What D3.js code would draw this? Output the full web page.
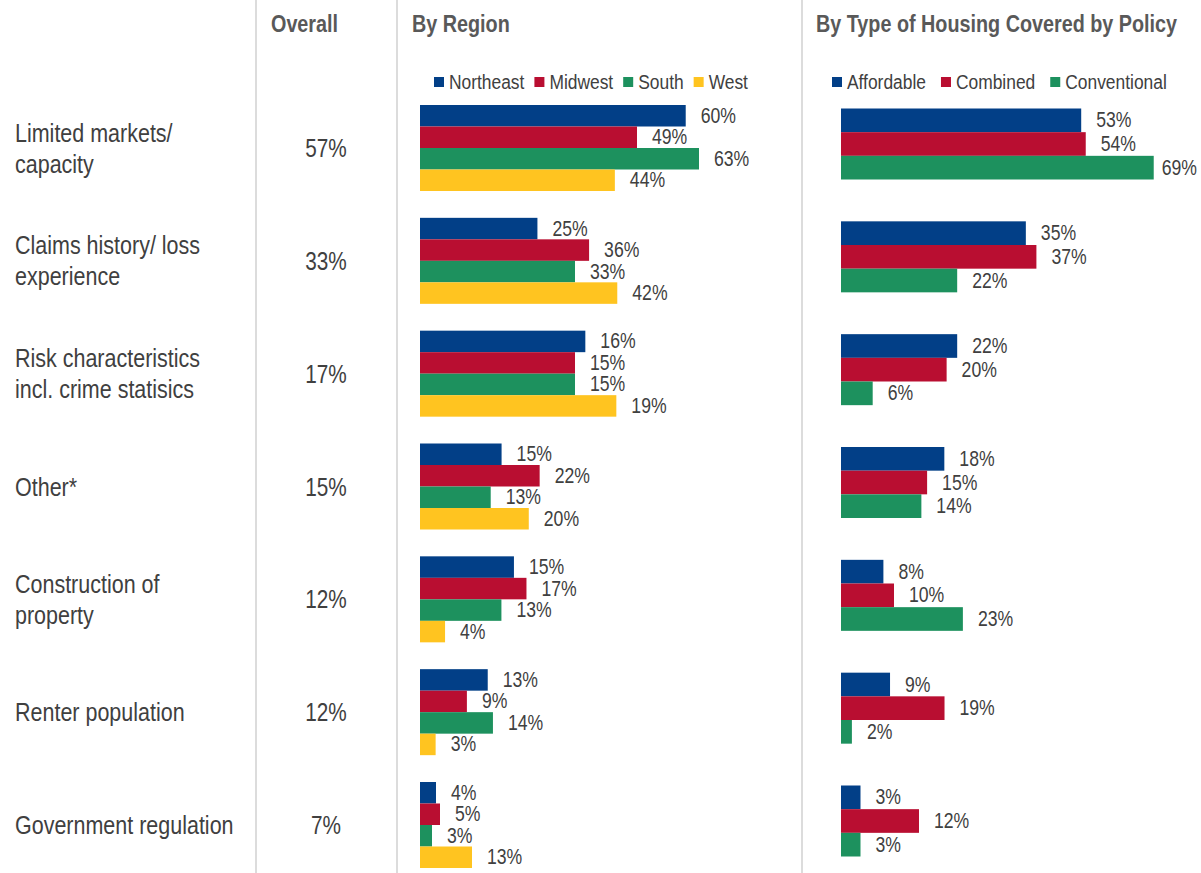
<!DOCTYPE html>
<html>
<head>
<meta charset="utf-8">
<script src="https://cdn.jsdelivr.net/npm/d3@7"></script>
<style>
  body { margin: 0; background: #fff; }
  svg { display: block; font-family: "Liberation Sans", Arial, sans-serif; }
</style>
</head>
<body>
<svg id="chart" width="1201" height="873"></svg>
<script>
// Data
const categories = [
  ['Limited markets/', 'capacity'],
  ['Claims history/ loss', 'experience'],
  ['Risk characteristics', 'incl. crime statisics'],
  ['Other*'],
  ['Construction of', 'property'],
  ['Renter population'],
  ['Government regulation']
];
const overall = [57, 33, 17, 15, 12, 12, 7];

const regions = ['Northeast', 'Midwest', 'South', 'West'];
const northeast = [60, 25, 16, 15, 15, 13, 4];
const midwest   = [49, 36, 15, 22, 17, 9, 5];
const south     = [63, 33, 15, 13, 13, 14, 3];
const west      = [44, 42, 19, 20, 4, 3, 13];

const housingTypes = ['Affordable', 'Combined', 'Conventional'];
const affordable   = [53, 35, 22, 18, 8, 9, 3];
const combined     = [54, 37, 20, 15, 10, 19, 12];
const conventional = [69, 22, 6, 14, 23, 2, 3];

// every row in the original is its own little chart with its own axis maximum
const regionAxisMax = [70, 66, 30, 57, 49.5, 59.5, 77.5];
const typeAxisMax   = [68.4, 58.7, 58.7, 54, 58.5, 56.9, 47.7];

const headers = ['Overall', 'By Region', 'By Type of Housing Covered by Policy'];

const regionColors = ['#023f87', '#b90e31', '#1d915e', '#ffc420'];
const typeColors = ['#023f87', '#b90e31', '#1d915e'];
const textColor = '#404040';
const headColor = '#595959';

const W = 1201;
const svg = d3.select('#chart');
const rowKeys = categories.map((d, i) => i);

// rows share one vertical position scale
const y = d3.scalePoint().domain(rowKeys).range([148, 825]);

// helper for slightly condensed text, like the original
function label(g, x, yy, txt, size, sx, anchor, weight, color) {
  return g.append('text')
    .attr('transform', `translate(${x},${yy}) scale(${sx},1)`)
    .attr('text-anchor', anchor || 'start')
    .attr('font-size', size)
    .attr('font-weight', weight || 'normal')
    .attr('fill', color || textColor)
    .text(txt);
}

// separators
svg.selectAll('line.sep')
  .data([256, 397, 802])
  .enter()
  .append('line')
  .attr('class', 'sep')
  .attr('x1', d => d).attr('x2', d => d)
  .attr('y1', 0).attr('y2', 873)
  .attr('stroke', '#dcdcdc')
  .attr('stroke-width', 2);

// headers
[271, 412, 816].forEach((x, i) => label(svg, x, 32, headers[i], 23, 0.86, 'start', 'bold', headColor));

// row labels + overall value
const rows = svg.append('g');
categories.forEach((lines, i) => {
  const lh = 31;
  const top = y(i) - (lines.length - 1) * lh / 2;
  lines.forEach((ln, j) => {
    label(rows, 15, top + j * lh + 9, ln, 25, 0.86);
  });
  label(rows, 326, y(i) + 9, overall[i] + '%', 25, 0.83, 'middle');
});

// grouped bar panel, one x scale per row
function panel(series, names, colors, x0, axisMax, groupH, yShift) {
  const g = svg.append('g');
  const inner = d3.scaleBand().domain(names).range([-groupH / 2, groupH / 2]).padding(0);
  const xs = axisMax.map(m => d3.scaleLinear().domain([0, m]).range([x0, x0 + 310]));

  names.forEach((name, s) => {
    const vals = series[s];
    g.selectAll(null)
      .data(vals)
      .enter()
      .append('rect')
      .attr('x', (d, i) => xs[i](0))
      .attr('y', (d, i) => y(i) + yShift + inner(name))
      .attr('width', (d, i) => xs[i](d) - xs[i](0))
      .attr('height', inner.bandwidth())
      .attr('fill', colors[s]);

    vals.forEach((v, i) => {
      const t = label(g, 0, 0, v + '%', 21.5, 0.82);
      const tw = t.node().getComputedTextLength() * 0.82;
      const tx = Math.min(xs[i](v) + 15, W - tw - 4);
      const ty = y(i) + yShift + inner(name) + inner.bandwidth() / 2 + 7;
      t.attr('transform', `translate(${tx},${ty}) scale(0.82,1)`);
    });
  });
}

panel([northeast, midwest, south, west], regions, regionColors, 420, regionAxisMax, 86, 0);
panel([affordable, combined, conventional], housingTypes, typeColors, 841, typeAxisMax, 71, -4);

// legends
function legend(names, colors, x0, gap) {
  const g = svg.append('g');
  let x = x0;
  names.forEach((n, i) => {
    g.append('rect')
      .attr('x', x).attr('y', 77)
      .attr('width', 10).attr('height', 10)
      .attr('fill', colors[i]);
    const t = label(g, x + 15, 89, n, 20, 0.87);
    x += 15 + t.node().getComputedTextLength() * 0.87 + gap;
  });
}
legend(regions, regionColors, 434, 10);
legend(housingTypes, typeColors, 832, 15);
</script>
</body>
</html>
